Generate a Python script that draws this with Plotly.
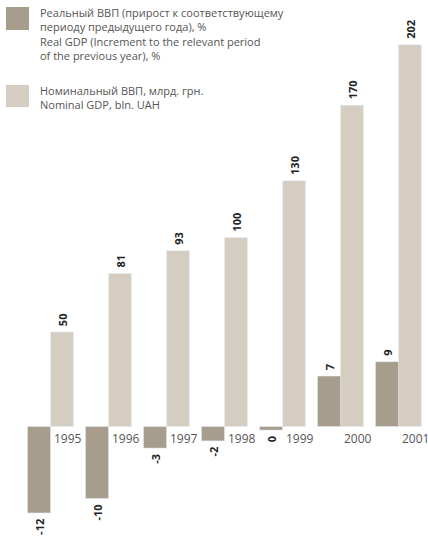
import plotly.graph_objects as go

years = ["1995", "1996", "1997", "1998", "1999", "2000", "2001"]
real_gdp = [-12, -10, -3, -2, -0.5, 7, 9]
nominal_gdp = [50, 81, 93, 100, 130, 170, 202]

legend_real = ("Реальный ВВП (прирост к соответствующему<br>периоду предыдущего года), %<br>"
               "Real GDP (Increment to the relevant period<br>of the previous year), %")
legend_nominal = "Номинальный ВВП, млрд. грн.<br>Nominal GDP, bln. UAH"

C_REAL = "#a69d8d"
C_NOM = "#d5cdc1"
FONT = "Open Sans"
NB = "\u00a0"

W, H = 428, 544
base_px = 426.5
nom_scale = 1.89
real_scale = 7.2


def pad(v):
    s = f"{round(v):d}"
    return NB + s if v > 0 else s + NB


fig = go.Figure()
fig.add_trace(go.Bar(
    x=years, y=real_gdp, name="real", marker_color=C_REAL, offsetgroup="a",
    text=[pad(v) for v in real_gdp], textposition="outside", textangle=-90,
    constraintext="none", cliponaxis=False,
    textfont=dict(family=FONT, size=11, color="#222222", weight="bold"),
    yaxis="y2",
))
fig.add_trace(go.Bar(
    x=years, y=nominal_gdp, name="nominal", marker_color=C_NOM, offsetgroup="b",
    text=[pad(v) for v in nominal_gdp], textposition="outside", textangle=-90,
    constraintext="none", cliponaxis=False,
    textfont=dict(family=FONT, size=11, color="#222222", weight="bold"),
    yaxis="y",
))

x0 = -50.5 / 58
x1 = x0 + W / 58

for i, yr in enumerate(years):
    fig.add_annotation(x=i, xref="x", y=1 - base_px / H, yref="paper", text=yr,
                       showarrow=False, xanchor="left", yanchor="top", xshift=1, yshift=-1,
                       font=dict(family=FONT, size=12, color="#555555"))

# legend
fig.add_shape(type="rect", xref="paper", yref="paper",
              x0=6 / W, x1=29 / W, y0=1 - 30 / H, y1=1 - 7 / H,
              fillcolor=C_REAL, line_width=0)
fig.add_shape(type="rect", xref="paper", yref="paper",
              x0=6 / W, x1=29 / W, y0=1 - 107 / H, y1=1 - 85 / H,
              fillcolor=C_NOM, line_width=0)
fig.add_annotation(xref="paper", yref="paper", x=38 / W, y=1 - 3 / H, text=legend_real,
                   showarrow=False, xanchor="left", yanchor="top", align="left",
                   font=dict(family=FONT, size=11, color="#555555"))
fig.add_annotation(xref="paper", yref="paper", x=38 / W, y=1 - 81 / H, text=legend_nominal,
                   showarrow=False, xanchor="left", yanchor="top", align="left",
                   font=dict(family=FONT, size=11, color="#555555"))

fig.update_layout(
    width=W, height=H, margin=dict(l=0, r=0, t=0, b=0),
    paper_bgcolor="white", plot_bgcolor="white",
    barmode="group", bargap=12 / 58, bargroupgap=0, showlegend=False,
    xaxis=dict(type="category", range=[x0, x1], showticklabels=False, showgrid=False,
               zeroline=False, showline=False, ticks=""),
    yaxis=dict(range=[-(H - base_px) / nom_scale, base_px / nom_scale], visible=False,
               showgrid=False, zeroline=False),
    yaxis2=dict(range=[-(H - base_px) / real_scale, base_px / real_scale], visible=False,
                showgrid=False, zeroline=False, overlaying="y", side="right"),
)

fig.write_html("out.html", config={"displayModeBar": False},
               post_script="document.body.style.margin='0';document.body.style.overflow='hidden';")
